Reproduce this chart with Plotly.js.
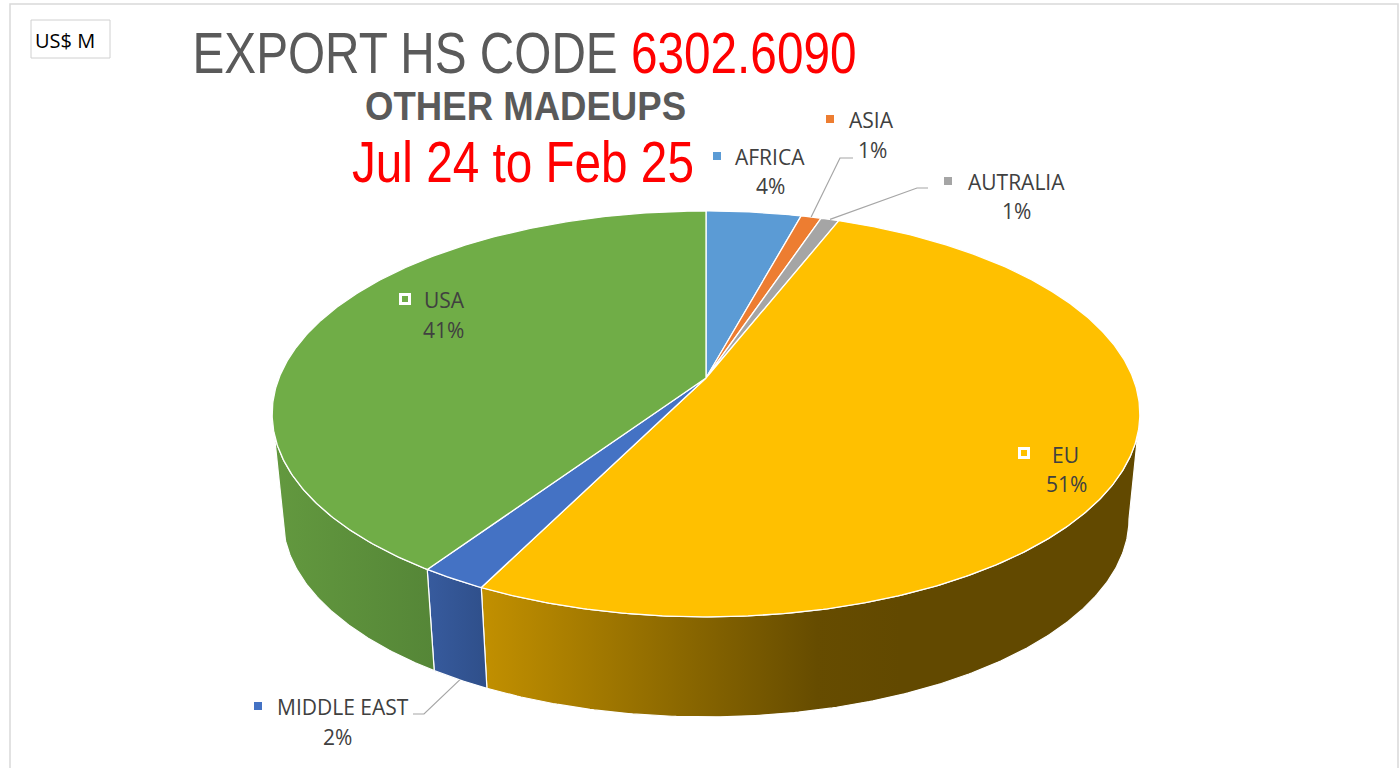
<!DOCTYPE html>
<html>
<head>
<meta charset="utf-8">
<script src="https://cdn.plot.ly/plotly-3.0.1.min.js"></script>
<style>
  html, body { margin: 0; padding: 0; background: #ffffff; }
  #chart { width: 1400px; height: 768px; }
</style>
</head>
<body>
<div id="chart"></div>
<script>
// ---------- DATA ----------
const categories = ['AFRICA', 'ASIA', 'AUTRALIA', 'EU', 'MIDDLE EAST', 'USA'];
const shares = [4.2, 0.9, 0.8, 51.4, 2.1, 40.6];   // share of exports
const unitLabel = 'US$ M';
const titleLine1 = 'EXPORT HS CODE ';
const titleCode = '6302.6090';
const titleLine2 = 'OTHER MADEUPS';
const titleLine3 = 'Jul 24 to Feb 25';

// ---------- STYLE ----------
const topColors = ['#5B9BD5', '#ED7D31', '#A5A5A5', '#FFC000', '#4472C4', '#70AD47'];
const sideScales = [
  [[0, '#4A82B5'], [1, '#3C6C98']],
  [[0, '#C9692A'], [1, '#A65722']],
  [[0, '#8C8C8C'], [1, '#737373']],
  [[0, '#C29000'], [0.45, '#8E6A00'], [0.8, '#664C00'], [1, '#624900']],
  [[0, '#375B9E'], [1, '#2F4F8A']],
  [[0, '#63993F'], [1, '#558637']]
];
// label layout (pixel positions of the label blocks)
const labelPos = [
  {name: [770, 157], pct: [770, 186], key: [717, 156], lead: null, inside: false},
  {name: [871, 120], pct: [872, 150], key: [830, 119], lead: [853, 158, 840, 158], inside: false},
  {name: [1016, 182], pct: [1016, 211], key: [948, 181], lead: [928, 188, 917, 188], inside: false},
  {name: [1065, 455], pct: [1066, 484], key: [1024, 453], lead: null, inside: true},
  {name: [343, 707], pct: [337, 737], key: [258, 706], lead: [413, 714, 424, 714], inside: false, leadBottom: true},
  {name: [444, 300], pct: [443, 330], key: [405, 299], lead: null, inside: true}
];
// title text widths (px) to reproduce the narrow face
const titleWidths = [664, 321, 342];

// ---------- 3D pie projection ----------
const CX = 706, CY = 378, RA = 427, RB = 196.6, PERS = 0.177, SHR = 0.975, DEPTH = 106;
function topPt(th) {
  const u = Math.sin(th), v = Math.cos(th), w = 1 + PERS * v;
  return [CX + RA * u / w, CY - RB * v / w];
}
function botPt(th) {
  const u = Math.sin(th), v = Math.cos(th), w = 1 + PERS * v;
  return [CX + RA * u / w * SHR, CY - RB * v / w * SHR + DEPTH];
}
function arc(fn, a0, a1) {
  const n = Math.max(2, Math.ceil(Math.abs(a1 - a0) / (Math.PI / 360)));
  const xs = [], ys = [];
  for (let i = 0; i <= n; i++) {
    const p = fn(a0 + (a1 - a0) * i / n);
    xs.push(p[0]); ys.push(p[1]);
  }
  return [xs, ys];
}

const total = shares.reduce((a, b) => a + b, 0);
const angles = [];
let cum = 0;
shares.forEach(v => {
  const a0 = cum / total * 2 * Math.PI;
  cum += v;
  const a1 = cum / total * 2 * Math.PI;
  angles.push([a0, a1]);
});
const frontA = Math.acos(-PERS), frontB = 2 * Math.PI - Math.acos(-PERS);

const traces = [];
// sides
angles.forEach((ang, i) => {
  const s0 = Math.max(ang[0], frontA), s1 = Math.min(ang[1], frontB);
  if (s1 <= s0) return;
  const t = arc(topPt, s0, s1), b = arc(botPt, s1, s0);
  const xs = t[0].concat(b[0]); const ys = t[1].concat(b[1]);
  xs.push(xs[0]); ys.push(ys[0]);
  traces.push({
    type: 'scatter', mode: 'lines', x: xs, y: ys, fill: 'toself',
    fillcolor: sideScales[i][0][1],
    fillgradient: {type: 'horizontal', colorscale: sideScales[i],
      start: Math.min(...xs), stop: (i === 3 ? Math.min(...xs) + 420 : Math.max(...xs))},
    line: {color: '#ffffff', width: 1.2}, hoverinfo: 'skip', showlegend: false
  });
});
// tops
angles.forEach((ang, i) => {
  const t = arc(topPt, ang[0], ang[1]);
  const xs = [CX].concat(t[0], [CX]); const ys = [CY].concat(t[1], [CY]);
  traces.push({
    type: 'scatter', mode: 'lines', x: xs, y: ys, fill: 'toself',
    fillcolor: topColors[i], line: {color: '#ffffff', width: 1.3},
    name: categories[i], hoverinfo: 'skip', showlegend: false
  });
});
// leader lines
angles.forEach((ang, i) => {
  const L = labelPos[i].lead;
  if (!L) return;
  const mid = (ang[0] + ang[1]) / 2;
  const p = labelPos[i].leadBottom ? botPt(mid) : topPt(mid);
  traces.push({
    type: 'scatter', mode: 'lines', x: [L[0], L[2], p[0]], y: [L[1], L[3], p[1]],
    line: {color: '#A6A6A6', width: 1.2}, hoverinfo: 'skip', showlegend: false
  });
});
// legend keys
labelPos.forEach((lp, i) => {
  traces.push({
    type: 'scatter', mode: 'markers', x: [lp.key[0]], y: [lp.key[1]],
    marker: {symbol: 'square', size: lp.inside ? 9 : 8, color: topColors[i],
      line: {color: '#ffffff', width: lp.inside ? 3 : 0}},
    hoverinfo: 'skip', showlegend: false
  });
});

const labelFont = {family: 'Open Sans, Noto Sans, sans-serif', size: 21, color: '#404040'};
const annotations = [];
categories.forEach((c, i) => {
  const lp = labelPos[i];
  annotations.push({x: lp.name[0], y: lp.name[1], xref: 'x', yref: 'y', text: c,
    showarrow: false, font: labelFont, xanchor: 'center', yanchor: 'middle'});
  annotations.push({x: lp.pct[0], y: lp.pct[1], xref: 'x', yref: 'y',
    text: Math.round(shares[i] / total * 100) + '%',
    showarrow: false, font: labelFont, xanchor: 'center', yanchor: 'middle'});
});
const titleFam = 'Liberation Sans, Arial, sans-serif';
annotations.push({x: 524, y: 52, xref: 'x', yref: 'y', showarrow: false,
  text: titleLine1 + '<span style="color:#FF0000">' + titleCode + '</span>',
  font: {family: titleFam, size: 58, color: '#5A5A5A'}, xanchor: 'center', yanchor: 'middle'});
annotations.push({x: 525, y: 106, xref: 'x', yref: 'y', showarrow: false,
  text: '<b>' + titleLine2 + '</b>',
  font: {family: titleFam, size: 40, color: '#5A5A5A'}, xanchor: 'center', yanchor: 'middle'});
annotations.push({x: 523, y: 161, xref: 'x', yref: 'y', showarrow: false,
  text: titleLine3,
  font: {family: titleFam, size: 58, color: '#FF0000'}, xanchor: 'center', yanchor: 'middle'});
annotations.push({x: 33, y: 40, xref: 'x', yref: 'y', showarrow: false, text: unitLabel,
  font: {family: 'Open Sans, Noto Sans, sans-serif', size: 20, color: '#000000'},
  xanchor: 'left', yanchor: 'middle'});

const layout = {
  width: 1400, height: 768,
  margin: {l: 0, r: 0, t: 0, b: 0},
  paper_bgcolor: '#ffffff', plot_bgcolor: '#ffffff',
  xaxis: {range: [0, 1400], visible: false, fixedrange: true},
  yaxis: {range: [768, 0], visible: false, fixedrange: true},
  showlegend: false,
  annotations: annotations,
  shapes: [
    {type: 'rect', xref: 'x', yref: 'y', x0: 10, y0: 4, x1: 1398, y1: 790,
      line: {color: '#D9D9D9', width: 1.5}},
    {type: 'rect', xref: 'x', yref: 'y', x0: 31, y0: 20, x1: 110, y1: 58,
      line: {color: '#D0D0D0', width: 1}}
  ]
};
Plotly.newPlot('chart', traces, layout, {displayModeBar: false, staticPlot: true}).then(gd => {
  // condense the title lines horizontally (narrow typeface look), scaling about their centre
  const titles = [titleLine1 + titleCode, titleLine2, titleLine3];
  gd.querySelectorAll('text.annotation-text').forEach(el => {
    const k = titles.indexOf(el.textContent);
    if (k >= 0) {
      const w = el.getBBox().width;
      const s = titleWidths[k] / w;
      el.style.transformBox = 'fill-box';
      el.style.transformOrigin = 'center';
      el.style.transform = 'scaleX(' + s.toFixed(4) + ')';
    }
  });
});
</script>
</body>
</html>
